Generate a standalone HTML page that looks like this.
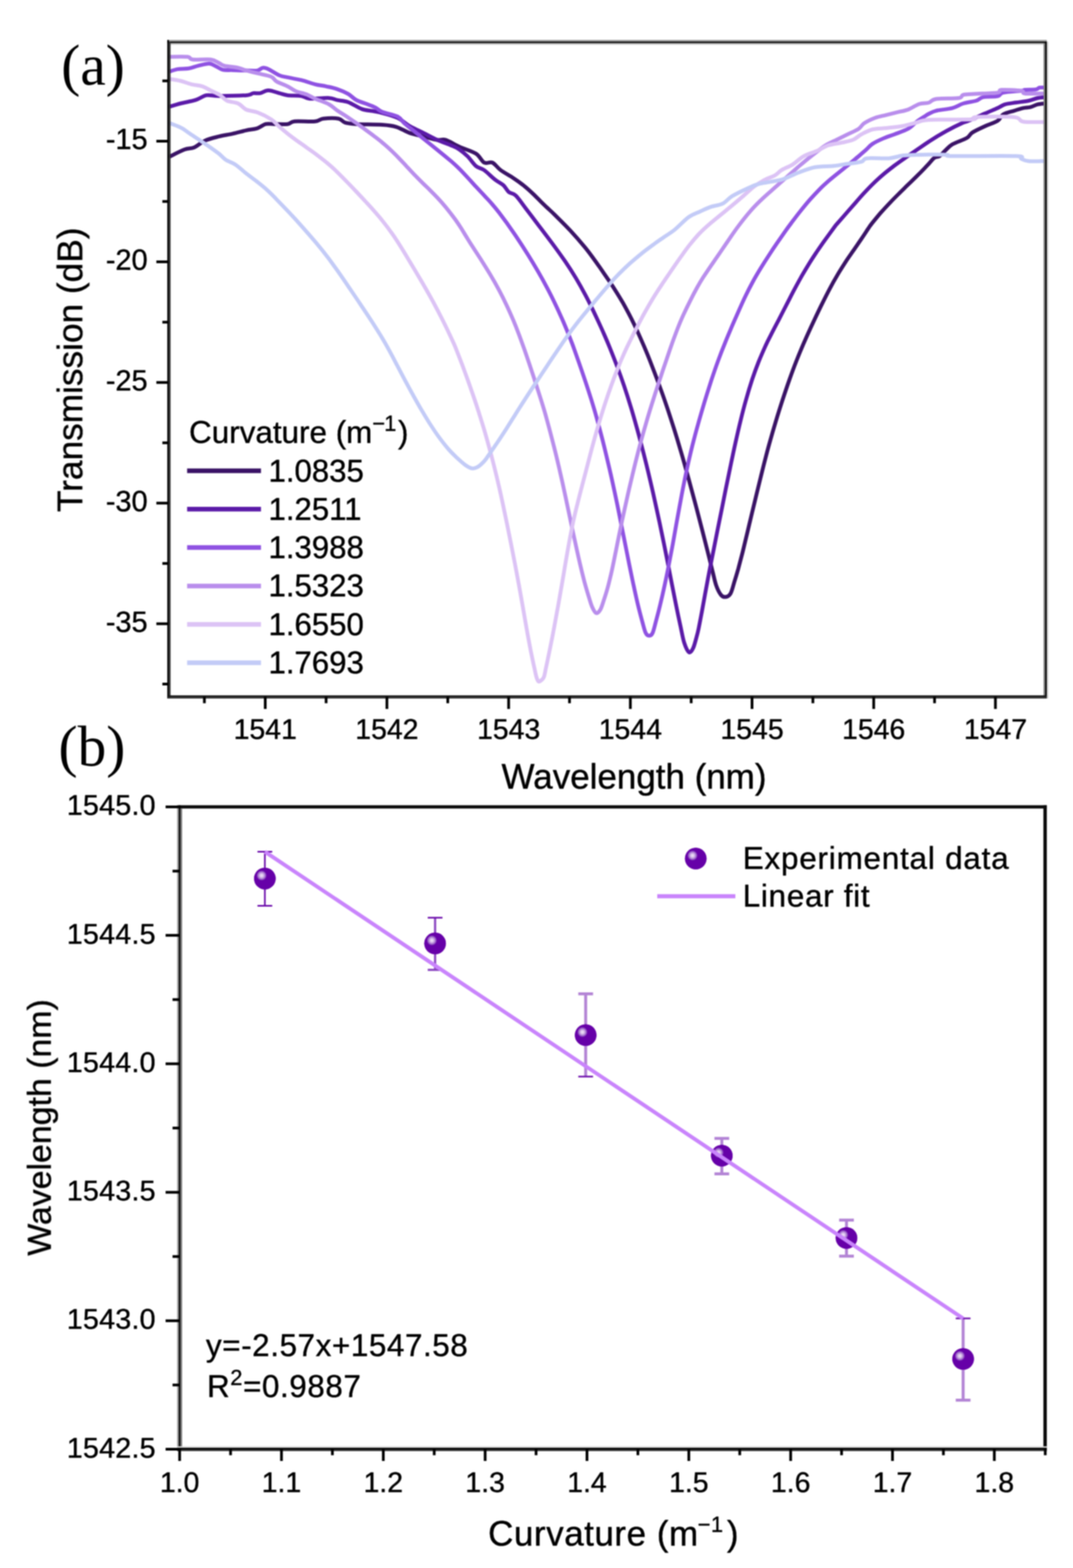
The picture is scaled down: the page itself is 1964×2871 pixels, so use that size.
<!DOCTYPE html>
<html lang="en">
<head>
<meta charset="utf-8">
<title>Transmission spectra and wavelength shift versus curvature</title>
<style>
html,body{margin:0;padding:0;background:#fff;}
body{width:1964px;height:2871px;overflow:hidden;}
svg{display:block;}
text{white-space:pre;stroke:#000;stroke-width:0.7px;stroke-linejoin:round;}
</style>
</head>
<body>
<svg width="1964" height="2871" viewBox="0 0 1964 2871">
<defs><filter id="soft" filterUnits="userSpaceOnUse" x="0" y="0" width="1964" height="2871" color-interpolation-filters="sRGB"><feGaussianBlur stdDeviation="1.0"/></filter></defs>
<rect x="0" y="0" width="1964" height="2871" fill="#ffffff"/>
<g filter="url(#soft)">
<clipPath id="clipA"><rect x="309.2" y="77.4" width="1605.3" height="1198.6999999999998"/></clipPath>
<g clip-path="url(#clipA)" fill="none" stroke-width="7" stroke-linejoin="round" stroke-linecap="butt">
<path d="M308.8,287.6 C313.6,285.3 329.9,276.7 337.7,273.8 C345.4,270.9 349.0,272.7 355.3,270.0 C361.6,267.3 367.9,260.8 375.5,257.4 C383.1,254.0 392.2,252.0 400.6,249.9 C409.0,247.8 417.4,246.7 425.8,244.8 C434.2,242.9 443.3,240.3 450.9,238.6 C458.4,236.9 465.2,236.7 471.1,234.8 C477.0,232.9 481.2,228.5 486.2,227.2 C491.2,225.9 494.6,227.2 501.3,227.2 C508.0,227.2 520.1,228.0 526.4,227.2 C532.7,226.4 530.6,223.0 539.0,222.2 C547.4,221.4 567.9,223.0 576.7,222.2 C585.5,221.4 584.7,218.0 591.8,217.2 C598.9,216.4 612.8,215.9 619.5,217.2 C626.2,218.4 626.6,223.0 632.1,224.7 C637.6,226.4 640.9,226.6 652.2,227.2 C663.5,227.8 687.8,227.7 700.0,228.5 C712.2,229.3 716.8,229.8 725.2,232.3 C733.6,234.8 741.9,240.7 750.3,243.6 C758.7,246.5 767.1,247.8 775.5,249.9 C783.9,252.0 793.9,255.1 800.6,256.2 C807.3,257.2 809.0,254.1 815.7,256.2 C822.4,258.3 831.7,264.5 840.9,268.7 C850.1,272.9 863.5,276.5 871.1,281.3 C878.7,286.1 881.2,295.0 886.2,297.7 C891.2,300.4 896.3,295.4 901.3,297.7 C906.3,300.0 909.9,306.7 916.4,311.5 C922.9,316.3 932.8,321.4 940.1,326.3 C947.4,331.2 954.2,336.2 960.1,341.0 C966.1,345.8 970.9,350.4 975.9,355.1 C980.8,359.7 985.4,364.6 989.8,368.9 C994.2,373.2 998.1,377.0 1002.2,380.9 C1006.3,384.8 1007.4,385.4 1014.3,392.3 C1021.3,399.3 1034.8,412.5 1044.1,422.4 C1053.3,432.3 1062.8,443.3 1069.8,451.8 C1076.8,460.2 1081.1,466.3 1086.3,473.3 C1091.5,480.3 1095.9,486.8 1100.8,493.8 C1105.6,500.7 1111.3,509.0 1115.4,515.0 C1119.4,521.0 1121.0,523.2 1125.1,529.8 C1129.3,536.4 1135.0,545.5 1140.2,554.6 C1145.3,563.7 1151.6,575.6 1156.1,584.3 C1160.5,593.0 1162.9,598.2 1166.7,606.6 C1170.5,614.9 1175.2,625.6 1179.0,634.4 C1182.7,643.3 1184.6,647.6 1189.3,659.5 C1194.0,671.5 1201.7,691.7 1207.0,706.1 C1212.3,720.4 1216.5,732.5 1221.0,745.8 C1225.5,759.2 1229.9,772.9 1234.0,785.9 C1238.1,798.9 1242.0,811.9 1245.5,823.9 C1249.1,835.9 1251.9,845.8 1255.2,857.8 C1258.6,869.7 1262.1,882.9 1265.5,895.5 C1268.9,908.1 1272.3,920.6 1275.6,933.2 C1278.9,945.8 1282.2,958.4 1285.4,971.0 C1288.6,983.6 1291.8,996.3 1295.0,1008.9 C1298.1,1021.4 1301.7,1035.7 1304.3,1046.1 C1306.9,1056.6 1308.3,1064.4 1310.8,1071.6 C1313.3,1078.8 1316.7,1085.6 1319.6,1089.2 C1322.5,1092.8 1325.5,1093.4 1328.4,1093.0 C1331.3,1092.6 1334.6,1091.2 1337.2,1086.7 C1339.8,1082.2 1341.6,1073.8 1343.9,1066.2 C1346.3,1058.6 1348.8,1050.3 1351.4,1041.2 C1353.9,1032.0 1356.5,1021.9 1359.3,1011.0 C1362.0,1000.2 1364.8,988.0 1367.7,976.1 C1370.5,964.1 1373.6,951.1 1376.4,939.5 C1379.2,927.9 1381.7,917.6 1384.3,906.7 C1387.0,895.7 1389.7,884.8 1392.3,874.0 C1395.0,863.1 1397.6,852.5 1400.5,841.4 C1403.3,830.4 1406.1,819.7 1409.5,807.8 C1412.8,795.9 1416.7,782.5 1420.5,770.0 C1424.3,757.4 1428.3,744.8 1432.4,732.2 C1436.5,719.7 1441.1,706.1 1445.2,694.5 C1449.3,682.9 1452.8,673.3 1457.0,662.7 C1461.2,652.0 1465.7,641.2 1470.2,630.7 C1474.7,620.3 1478.6,611.5 1483.9,600.0 C1489.3,588.4 1496.5,573.1 1502.2,561.4 C1508.0,549.6 1513.3,538.9 1518.4,529.3 C1523.4,519.7 1527.5,512.4 1532.7,503.7 C1537.8,495.1 1544.6,484.6 1549.3,477.2 C1554.1,469.9 1556.7,466.4 1561.3,459.8 C1565.8,453.1 1571.9,444.5 1576.6,437.5 C1581.4,430.5 1586.6,422.4 1589.7,417.8 C1592.8,413.2 1591.5,414.8 1595.2,410.0 C1599.0,405.3 1606.4,396.1 1612.2,389.4 C1618.1,382.7 1624.5,375.9 1630.3,369.8 C1636.1,363.7 1642.4,357.5 1647.2,352.7 C1652.0,347.9 1654.0,346.0 1659.0,341.1 C1664.0,336.3 1671.6,329.0 1677.1,323.5 C1682.6,318.1 1688.3,312.3 1692.1,308.3 C1695.9,304.4 1697.0,303.2 1700.0,300.0 C1703.0,296.8 1706.7,291.6 1710.0,289.2 C1713.3,286.8 1716.6,288.0 1719.9,285.8 C1723.2,283.6 1726.0,279.5 1729.9,275.9 C1733.8,272.3 1736.6,268.2 1743.2,264.3 C1749.8,260.4 1763.7,256.2 1769.8,252.6 C1775.9,249.0 1774.2,246.3 1779.7,242.7 C1785.2,239.1 1795.2,234.6 1803.0,231.0 C1810.8,227.4 1820.7,224.7 1826.2,221.1 C1831.7,217.5 1831.2,212.4 1836.2,209.4 C1841.2,206.4 1850.0,204.7 1856.1,202.8 C1862.2,200.9 1867.8,198.9 1872.8,197.8 C1877.8,196.7 1881.6,197.2 1886.0,196.1 C1890.4,195.0 1894.9,192.3 1899.3,191.2 C1903.7,190.1 1910.4,189.8 1912.6,189.5" stroke="#3a1366"/>
<path d="M308.8,195.8 C312.4,194.8 322.0,191.6 330.2,189.5 C338.4,187.4 349.9,185.7 357.9,183.2 C365.9,180.7 370.9,175.7 378.0,174.4 C385.1,173.2 388.5,175.7 400.6,175.7 C412.8,175.7 440.4,175.2 450.9,174.4 C461.4,173.6 459.3,171.2 463.5,170.6 C467.7,170.0 471.5,171.4 476.1,170.6 C480.7,169.8 485.3,165.6 491.2,165.6 C497.1,165.6 505.4,169.1 511.3,170.6 C517.2,172.1 519.7,173.6 526.4,174.4 C533.1,175.2 544.9,174.6 551.6,175.7 C558.3,176.8 558.3,180.1 566.7,180.7 C575.1,181.3 593.5,179.0 601.9,179.4 C610.3,179.8 611.1,181.9 617.0,183.2 C622.9,184.5 629.6,184.3 637.1,187.0 C644.6,189.7 654.8,196.9 662.3,199.6 C669.8,202.3 676.1,202.1 682.4,203.3 C688.7,204.6 692.5,205.0 700.0,207.1 C707.5,209.2 719.3,211.9 727.7,215.9 C736.1,219.9 742.3,226.4 750.3,231.0 C758.3,235.6 767.1,239.4 775.5,243.6 C783.9,247.8 792.2,252.4 800.6,256.2 C809.0,260.0 819.1,263.3 825.8,266.2 C832.5,269.1 835.9,270.4 840.9,273.8 C845.9,277.2 851.0,281.4 856.0,286.4 C861.0,291.4 866.1,299.8 871.1,304.0 C876.1,308.2 880.3,307.3 886.2,311.5 C892.1,315.7 900.4,324.5 906.3,329.1 C912.2,333.7 917.2,335.4 921.4,339.2 C925.6,343.0 927.6,348.7 931.4,351.8 C935.2,354.9 938.7,352.9 944.0,358.0 C949.3,363.1 956.8,374.4 963.1,382.6 C969.4,390.8 974.0,396.8 981.7,407.1 C989.5,417.3 1000.8,432.0 1009.6,444.0 C1018.5,456.0 1027.3,468.2 1034.8,479.1 C1042.2,490.0 1048.3,499.6 1054.3,509.5 C1060.3,519.5 1066.4,530.6 1070.8,538.9 C1075.3,547.1 1077.1,551.0 1081.0,558.9 C1084.9,566.8 1090.0,577.5 1094.1,586.4 C1098.2,595.2 1102.1,603.6 1105.7,612.0 C1109.4,620.3 1111.9,626.1 1116.0,636.2 C1120.1,646.4 1126.0,661.3 1130.3,672.9 C1134.7,684.5 1138.0,693.7 1142.1,705.8 C1146.2,718.0 1151.0,733.1 1154.9,746.0 C1158.9,759.0 1162.2,770.9 1165.7,783.5 C1169.2,796.0 1172.4,808.2 1175.7,821.2 C1179.1,834.2 1182.6,848.1 1185.8,861.5 C1189.0,874.9 1191.6,885.8 1195.2,901.8 C1198.8,917.8 1204.0,942.0 1207.4,957.6 C1210.7,973.3 1212.7,983.0 1215.3,995.6 C1217.9,1008.2 1220.4,1020.8 1222.8,1033.3 C1225.3,1045.8 1227.6,1058.3 1230.1,1070.8 C1232.6,1083.4 1235.0,1096.1 1237.6,1108.6 C1240.1,1121.2 1243.0,1134.9 1245.5,1146.2 C1248.0,1157.6 1249.7,1168.6 1252.3,1176.6 C1254.9,1184.6 1258.4,1192.5 1261.1,1194.2 C1263.8,1195.9 1266.4,1191.4 1268.7,1186.7 C1271.0,1182.0 1273.4,1172.1 1275.0,1166.1 C1276.7,1160.2 1277.1,1158.9 1278.7,1151.1 C1280.3,1143.4 1282.7,1130.6 1284.8,1119.5 C1286.8,1108.3 1288.9,1096.5 1291.2,1084.3 C1293.4,1072.1 1295.9,1059.0 1298.3,1046.4 C1300.8,1033.8 1303.3,1021.3 1305.8,1008.7 C1308.3,996.1 1310.8,983.5 1313.3,970.9 C1315.8,958.3 1318.4,945.8 1320.9,933.2 C1323.4,920.6 1325.9,908.1 1328.4,895.5 C1331.0,882.9 1333.3,871.6 1336.2,857.7 C1339.1,843.8 1342.6,826.7 1345.9,812.1 C1349.1,797.5 1352.3,783.3 1355.6,770.0 C1358.8,756.7 1361.8,745.0 1365.4,732.4 C1368.9,719.9 1373.0,706.3 1376.8,694.7 C1380.7,683.2 1384.3,673.3 1388.4,662.9 C1392.5,652.6 1397.6,641.2 1401.4,632.7 C1405.3,624.2 1407.6,620.0 1411.6,612.2 C1415.5,604.3 1420.2,595.5 1425.3,585.8 C1430.3,576.1 1436.8,563.3 1441.7,553.8 C1446.6,544.3 1450.2,537.1 1454.6,528.9 C1459.0,520.6 1463.7,511.9 1468.1,504.3 C1472.5,496.6 1476.6,489.8 1480.9,482.8 C1485.2,475.8 1489.7,469.0 1494.2,462.2 C1498.8,455.5 1502.7,449.8 1508.2,442.0 C1513.8,434.3 1523.5,421.0 1527.4,415.6 C1531.4,410.2 1528.1,414.4 1532.0,409.9 C1535.9,405.4 1544.9,395.2 1550.7,388.5 C1556.6,381.7 1562.2,375.4 1567.3,369.6 C1572.4,363.8 1576.2,359.3 1581.4,353.7 C1586.7,348.0 1592.6,341.6 1598.8,335.7 C1604.9,329.8 1612.0,323.4 1618.4,318.0 C1624.7,312.7 1631.3,307.7 1636.9,303.4 C1642.6,299.2 1646.6,296.4 1652.2,292.4 C1657.8,288.4 1665.1,283.4 1670.5,279.6 C1675.8,275.9 1679.4,273.5 1684.3,270.1 C1689.2,266.7 1695.5,262.4 1699.9,259.5 C1704.4,256.5 1705.4,255.8 1710.9,252.4 C1716.5,249.1 1725.1,243.7 1733.2,239.3 C1741.3,234.9 1753.2,229.0 1759.8,226.0 C1766.4,223.0 1765.9,224.1 1773.1,221.1 C1780.3,218.1 1794.2,211.7 1803.0,207.8 C1811.8,203.9 1820.1,200.6 1826.2,197.8 C1832.3,195.0 1834.0,192.9 1839.5,191.2 C1845.0,189.5 1852.3,188.9 1859.5,187.8 C1866.7,186.7 1876.1,185.9 1882.7,184.5 C1889.3,183.1 1894.3,180.6 1899.3,179.5 C1904.3,178.4 1910.4,178.2 1912.6,177.9" stroke="#5b1aa8"/>
<path d="M308.8,131.6 C311.5,130.8 319.1,127.6 325.2,126.6 C331.3,125.5 339.0,126.3 345.3,125.3 C351.6,124.2 356.6,121.8 362.9,120.3 C369.2,118.8 377.6,116.3 383.0,116.5 C388.4,116.7 391.4,119.7 395.6,121.6 C399.8,123.5 403.2,126.8 408.2,127.9 C413.2,129.0 418.7,128.2 425.8,128.4 C432.9,128.6 443.3,129.0 450.9,129.1 C458.4,129.2 466.1,129.9 471.1,129.1 C476.1,128.3 477.8,124.5 481.1,124.1 C484.5,123.7 486.2,124.3 491.2,126.6 C496.2,128.9 505.4,135.4 511.3,137.9 C517.2,140.4 519.7,140.2 526.4,141.7 C533.1,143.2 543.2,144.6 551.6,146.7 C560.0,148.8 569.2,152.4 576.7,154.3 C584.2,156.2 590.2,156.6 596.9,158.1 C603.6,159.6 610.3,160.8 617.0,163.1 C623.7,165.4 631.2,168.6 637.1,171.9 C643.0,175.2 646.3,180.0 652.2,183.2 C658.1,186.3 666.4,188.5 672.3,190.8 C678.2,193.1 682.8,194.6 687.4,197.0 C692.0,199.4 693.3,202.3 700.0,205.0 C706.7,207.7 721.0,209.9 727.7,213.4 C734.4,216.9 735.2,221.5 740.3,226.0 C745.4,230.5 750.9,234.6 758.3,240.5 C765.8,246.5 777.0,255.5 784.9,261.9 C792.8,268.3 798.9,273.1 805.8,278.7 C812.7,284.3 820.8,291.0 826.3,295.6 C831.7,300.3 834.1,302.5 838.4,306.7 C842.7,310.8 846.5,314.9 852.0,320.8 C857.5,326.6 865.3,335.4 871.1,341.7 C876.9,348.0 882.5,353.8 886.9,358.6 C891.3,363.4 893.4,365.2 897.8,370.3 C902.2,375.4 906.3,379.8 913.4,389.2 C920.6,398.6 932.0,414.2 940.7,426.9 C949.5,439.6 958.6,454.0 965.9,465.6 C973.2,477.2 978.4,486.0 984.5,496.6 C990.6,507.1 997.0,518.7 1002.5,529.1 C1008.0,539.5 1012.9,549.5 1017.5,559.2 C1022.1,568.8 1026.4,578.5 1030.1,586.8 C1033.7,595.1 1036.7,602.5 1039.3,608.8 C1041.8,615.1 1043.5,619.3 1045.5,624.5 C1047.5,629.7 1048.0,630.8 1051.3,640.1 C1054.6,649.4 1061.1,667.7 1065.4,680.3 C1069.7,692.9 1073.6,704.4 1077.2,715.8 C1080.9,727.1 1084.4,738.4 1087.4,748.4 C1090.4,758.4 1092.5,766.3 1095.1,775.9 C1097.7,785.5 1100.4,796.0 1103.0,806.0 C1105.5,816.1 1107.9,825.8 1110.4,836.3 C1112.9,846.8 1115.5,858.0 1118.0,868.9 C1120.5,879.9 1123.0,891.6 1125.2,901.7 C1127.4,911.9 1129.2,920.7 1131.1,930.0 C1133.0,939.3 1134.4,946.8 1136.6,957.7 C1138.8,968.6 1141.7,982.9 1144.2,995.5 C1146.7,1008.1 1149.2,1020.6 1151.7,1033.2 C1154.3,1045.8 1156.8,1058.3 1159.5,1070.8 C1162.2,1083.4 1165.2,1097.2 1167.9,1108.4 C1170.6,1119.7 1173.4,1130.0 1175.7,1138.5 C1178.1,1146.9 1179.8,1154.7 1181.9,1159.0 C1184.0,1163.3 1186.1,1164.0 1188.2,1164.0 C1190.3,1164.0 1192.4,1163.6 1194.5,1159.0 C1196.6,1154.4 1198.6,1144.9 1201.0,1136.1 C1203.4,1127.3 1206.1,1116.9 1208.7,1106.0 C1211.3,1095.1 1214.1,1083.0 1216.7,1070.8 C1219.3,1058.7 1222.0,1045.7 1224.4,1033.1 C1226.9,1020.6 1229.3,1008.0 1231.6,995.4 C1233.9,982.8 1235.6,972.7 1238.3,957.7 C1241.1,942.7 1244.7,922.1 1247.9,905.3 C1251.1,888.4 1254.6,871.5 1257.8,856.7 C1261.0,841.8 1263.9,829.7 1267.2,816.2 C1270.6,802.8 1274.1,789.5 1277.9,776.1 C1281.6,762.7 1285.6,749.2 1289.6,735.7 C1293.7,722.3 1298.2,708.0 1302.3,695.4 C1306.5,682.9 1310.3,671.8 1314.5,660.4 C1318.6,649.1 1322.9,638.0 1327.3,627.3 C1331.6,616.6 1336.0,606.4 1340.3,596.2 C1344.7,586.1 1349.4,575.4 1353.4,566.3 C1357.5,557.2 1360.7,549.9 1364.7,541.7 C1368.7,533.4 1372.9,525.1 1377.5,516.7 C1382.0,508.4 1387.0,499.9 1392.2,491.4 C1397.4,482.9 1403.6,473.2 1408.6,465.6 C1413.5,458.0 1417.0,452.8 1421.8,445.8 C1426.6,438.8 1433.0,429.6 1437.3,423.5 C1441.6,417.4 1443.3,415.0 1447.9,409.0 C1452.4,403.0 1458.6,394.6 1464.4,387.4 C1470.2,380.1 1476.3,372.5 1482.6,365.4 C1488.9,358.3 1496.2,350.6 1502.0,344.7 C1507.9,338.9 1512.0,335.3 1517.6,330.4 C1523.3,325.6 1531.0,319.5 1535.9,315.5 C1540.7,311.5 1542.7,310.0 1546.9,306.6 C1551.0,303.3 1556.4,298.8 1560.7,295.2 C1565.0,291.6 1568.8,288.5 1572.8,285.0 C1576.9,281.5 1581.3,277.8 1585.3,274.2 C1589.3,270.6 1591.6,267.0 1596.9,263.5 C1602.2,260.0 1610.3,256.3 1617.0,253.4 C1623.7,250.5 1629.5,248.8 1637.1,245.9 C1644.6,243.0 1655.6,239.6 1662.3,235.8 C1669.0,232.0 1672.4,227.0 1677.4,223.2 C1682.4,219.4 1688.7,215.5 1692.5,213.1 C1696.3,210.7 1696.5,210.2 1700.0,208.5 C1703.5,206.8 1706.1,204.6 1713.3,202.8 C1720.5,201.0 1734.9,200.0 1743.2,197.8 C1751.5,195.6 1755.9,191.7 1763.1,189.5 C1770.3,187.3 1780.3,186.4 1786.4,184.5 C1792.5,182.6 1793.1,179.3 1799.7,177.9 C1806.3,176.5 1820.1,177.6 1826.2,176.2 C1832.3,174.8 1829.0,171.3 1836.2,169.6 C1843.4,167.9 1862.8,167.0 1869.4,166.2 C1876.1,165.4 1871.7,165.0 1876.1,164.6 C1880.5,164.2 1891.6,164.5 1896.0,163.8 C1900.4,163.1 1899.9,161.0 1902.7,160.4 C1905.5,159.8 1910.9,160.4 1912.6,160.4" stroke="#8f52e2"/>
<path d="M308.8,104.0 C314.5,104.0 335.5,103.2 342.8,104.0 C350.1,104.8 345.7,108.2 352.8,109.0 C359.9,109.8 377.5,108.0 385.5,109.0 C393.5,110.0 396.4,113.4 400.6,115.3 C404.8,117.2 404.8,118.8 410.7,120.3 C416.6,121.8 429.1,122.6 435.8,124.1 C442.5,125.6 445.0,127.4 450.9,129.1 C456.8,130.8 463.6,132.3 471.1,134.2 C478.7,136.1 490.3,137.9 496.2,140.4 C502.1,142.9 501.3,146.2 506.3,149.2 C511.3,152.1 520.5,155.1 526.4,158.1 C532.3,161.1 535.6,164.4 541.5,166.9 C547.4,169.4 555.7,170.8 561.6,173.1 C567.5,175.4 570.0,177.8 576.7,180.7 C583.4,183.6 595.2,187.2 601.9,190.8 C608.6,194.4 611.7,198.5 617.0,202.1 C622.3,205.7 627.5,208.7 633.5,212.6 C639.4,216.6 646.8,221.7 652.5,225.7 C658.1,229.6 661.7,232.3 667.1,236.2 C672.6,240.2 679.9,245.5 685.1,249.5 C690.4,253.5 693.9,256.1 698.8,260.2 C703.7,264.4 709.5,269.4 714.7,274.3 C719.8,279.1 724.9,284.2 729.8,289.2 C734.8,294.3 739.9,300.0 744.4,304.8 C748.8,309.6 751.7,312.8 756.6,317.9 C761.6,323.1 769.0,330.5 774.0,335.5 C779.1,340.5 782.5,343.6 786.9,348.0 C791.3,352.4 795.8,356.7 800.5,361.9 C805.3,367.0 810.3,372.6 815.6,379.0 C820.8,385.4 827.6,394.1 832.2,400.4 C836.8,406.6 839.6,411.0 843.1,416.4 C846.6,421.8 850.1,427.9 853.1,432.7 C856.1,437.5 856.6,438.5 861.0,445.4 C865.3,452.2 873.4,464.4 879.3,473.7 C885.2,483.1 890.9,491.9 896.6,501.6 C902.4,511.2 908.7,522.3 913.8,531.9 C918.9,541.5 923.0,549.8 927.3,559.0 C931.6,568.1 935.9,577.9 939.7,586.7 C943.4,595.6 946.3,603.0 949.7,611.9 C953.1,620.8 956.6,630.7 959.9,640.0 C963.2,649.4 966.4,659.1 969.4,667.8 C972.3,676.6 975.0,684.8 977.6,692.7 C980.2,700.7 982.5,707.9 985.0,715.5 C987.4,723.1 989.9,730.6 992.2,738.2 C994.5,745.8 996.1,750.6 999.0,761.1 C1001.9,771.6 1006.3,787.7 1009.7,801.1 C1013.2,814.5 1016.6,827.9 1019.8,841.4 C1023.0,854.8 1026.2,868.6 1029.1,881.7 C1032.0,894.8 1034.7,907.3 1037.3,920.0 C1040.0,932.6 1042.6,945.0 1045.2,957.6 C1047.9,970.2 1050.6,983.0 1053.4,995.6 C1056.1,1008.1 1059.0,1021.4 1061.8,1033.1 C1064.5,1044.7 1067.3,1056.0 1069.8,1065.6 C1072.4,1075.2 1074.8,1083.2 1077.1,1090.8 C1079.5,1098.4 1081.4,1105.9 1083.8,1111.2 C1086.2,1116.5 1088.8,1121.7 1091.3,1122.5 C1093.8,1123.3 1096.7,1119.9 1098.9,1116.2 C1101.1,1112.5 1102.5,1107.2 1104.7,1100.5 C1107.0,1093.7 1109.9,1084.7 1112.4,1075.6 C1114.9,1066.4 1117.1,1056.9 1119.7,1045.7 C1122.2,1034.4 1124.9,1020.6 1127.5,1008.0 C1130.0,995.5 1132.6,982.2 1135.1,970.5 C1137.5,958.8 1139.3,950.3 1142.0,938.0 C1144.7,925.7 1148.0,910.7 1151.2,896.7 C1154.5,882.7 1157.9,868.1 1161.4,853.9 C1164.9,839.7 1168.4,825.6 1172.3,811.4 C1176.1,797.2 1180.3,782.4 1184.4,768.5 C1188.4,754.7 1192.6,741.3 1196.8,728.3 C1200.9,715.3 1205.4,701.8 1209.2,690.4 C1212.9,679.0 1215.8,670.4 1219.5,659.8 C1223.1,649.2 1227.1,637.4 1230.8,626.9 C1234.6,616.5 1238.6,605.6 1242.0,597.2 C1245.3,588.8 1247.3,584.3 1250.8,576.6 C1254.3,569.0 1258.8,559.6 1263.0,551.3 C1267.2,542.9 1272.0,533.7 1276.1,526.3 C1280.2,519.0 1282.4,515.1 1287.5,507.2 C1292.6,499.3 1301.7,486.0 1306.6,478.9 C1311.4,471.8 1311.6,471.7 1316.6,464.5 C1321.5,457.3 1330.3,444.2 1336.2,435.7 C1342.0,427.2 1345.7,421.7 1351.9,413.5 C1358.1,405.3 1366.7,394.4 1373.3,386.8 C1379.9,379.1 1385.4,373.7 1391.5,367.7 C1397.7,361.7 1404.3,355.9 1410.1,350.8 C1415.8,345.6 1420.0,342.0 1426.0,336.6 C1432.0,331.3 1440.2,324.0 1446.0,318.9 C1451.8,313.8 1455.6,310.4 1460.7,305.9 C1465.9,301.5 1471.0,297.1 1477.0,292.2 C1483.0,287.3 1491.0,281.1 1496.7,276.7 C1502.4,272.3 1505.5,269.5 1511.3,266.0 C1517.1,262.5 1524.7,259.2 1531.4,255.9 C1538.1,252.6 1544.9,249.2 1551.6,245.9 C1558.3,242.6 1566.7,239.2 1571.7,235.8 C1576.7,232.4 1576.8,229.0 1581.8,225.7 C1586.8,222.3 1595.2,218.2 1601.9,215.7 C1608.6,213.2 1615.3,212.3 1622.0,210.6 C1628.7,208.9 1635.4,207.3 1642.1,205.6 C1648.8,203.9 1655.6,203.1 1662.3,200.6 C1669.0,198.1 1676.1,192.6 1682.4,190.5 C1688.7,188.4 1694.8,189.6 1700.0,188.0 C1705.2,186.4 1704.2,182.6 1713.3,181.2 C1722.4,179.8 1746.5,180.8 1754.8,179.5 C1763.1,178.2 1758.4,174.9 1763.1,173.7 C1767.8,172.5 1772.6,172.8 1783.1,172.1 C1793.6,171.4 1817.9,170.8 1826.2,169.6 C1834.5,168.3 1825.7,165.2 1832.9,164.6 C1840.1,164.0 1862.2,165.1 1869.4,166.2 C1876.6,167.3 1868.9,170.4 1876.1,171.2 C1883.3,172.0 1906.5,171.2 1912.6,171.2" stroke="#b98eec"/>
<path d="M308.8,144.2 C312.4,144.8 323.3,146.3 330.2,148.0 C337.1,149.7 343.6,152.6 350.3,154.3 C357.0,156.0 364.5,156.2 370.4,158.1 C376.3,160.0 380.1,162.9 385.5,165.6 C390.9,168.3 398.1,171.2 403.1,174.4 C408.1,177.6 410.2,182.0 415.7,184.5 C421.1,187.0 429.9,186.8 435.8,189.5 C441.7,192.2 445.0,198.1 450.9,200.8 C456.8,203.5 463.6,202.9 471.1,205.8 C478.7,208.7 489.8,214.3 496.2,218.4 C502.6,222.5 504.3,225.8 509.4,230.3 C514.6,234.8 521.8,240.9 527.1,245.2 C532.5,249.5 535.7,251.9 541.5,256.1 C547.4,260.4 556.3,266.5 562.0,270.7 C567.8,274.8 570.0,276.1 576.2,280.8 C582.4,285.5 593.4,294.0 599.5,299.0 C605.6,304.0 607.0,305.3 612.8,310.8 C618.5,316.3 627.7,325.5 634.1,332.1 C640.6,338.6 645.6,343.9 651.3,350.0 C657.0,356.0 662.8,362.2 668.5,368.3 C674.1,374.4 679.6,380.3 685.0,386.5 C690.5,392.7 695.4,398.4 701.1,405.6 C706.8,412.8 713.8,422.2 719.0,429.6 C724.2,437.1 727.1,441.6 732.5,450.2 C737.9,458.8 745.5,471.5 751.3,481.1 C757.1,490.8 761.7,498.4 767.4,508.1 C773.1,517.8 779.8,529.3 785.5,539.5 C791.2,549.6 796.3,559.1 801.5,569.1 C806.7,579.1 812.0,589.6 816.7,599.2 C821.4,608.9 826.5,619.9 829.6,626.8 C832.7,633.6 832.6,633.2 835.4,640.4 C838.3,647.7 843.3,660.9 846.8,670.1 C850.2,679.3 852.8,686.3 856.1,695.5 C859.4,704.7 863.3,715.9 866.6,725.5 C870.0,735.2 872.7,743.4 875.9,753.5 C879.1,763.6 882.9,775.7 886.0,786.1 C889.1,796.6 892.0,806.8 894.5,816.0 C897.1,825.3 898.9,832.2 901.3,841.5 C903.7,850.7 906.6,862.4 908.8,871.5 C911.0,880.7 912.8,888.5 914.7,896.6 C916.5,904.7 917.6,909.9 919.8,920.1 C922.0,930.3 925.1,945.2 927.7,957.7 C930.2,970.3 932.8,982.9 935.3,995.5 C937.8,1008.1 940.3,1020.7 942.7,1033.2 C945.1,1045.8 947.5,1058.4 949.8,1071.0 C952.1,1083.6 954.3,1096.1 956.5,1108.7 C958.7,1121.3 961.4,1136.6 963.1,1146.5 C964.8,1156.3 965.7,1161.0 966.9,1167.7 C968.1,1174.3 969.3,1180.3 970.5,1186.6 C971.7,1192.9 973.0,1199.2 974.3,1205.5 C975.6,1211.7 977.1,1218.6 978.4,1224.2 C979.6,1229.9 980.6,1235.5 981.8,1239.4 C983.0,1243.3 984.0,1246.5 985.5,1247.6 C987.0,1248.6 988.9,1247.1 990.6,1245.7 C992.3,1244.3 994.2,1243.0 995.6,1239.4 C997.0,1235.8 997.8,1229.9 999.0,1224.2 C1000.3,1218.6 1001.7,1211.8 1003.0,1205.5 C1004.3,1199.2 1005.6,1192.9 1006.9,1186.6 C1008.2,1180.3 1009.4,1174.0 1010.7,1167.7 C1011.9,1161.4 1012.4,1158.7 1014.3,1148.9 C1016.1,1139.0 1019.3,1121.6 1021.7,1108.6 C1024.0,1095.6 1026.1,1083.5 1028.3,1070.9 C1030.5,1058.3 1032.6,1045.8 1034.7,1033.2 C1036.9,1020.7 1039.0,1008.1 1041.3,995.6 C1043.6,983.0 1046.4,968.9 1048.6,958.0 C1050.9,947.1 1052.7,939.7 1055.0,930.2 C1057.3,920.8 1059.4,912.9 1062.3,901.4 C1065.3,890.0 1069.3,874.7 1072.8,861.3 C1076.3,848.0 1079.7,834.5 1083.3,821.2 C1086.9,807.8 1090.5,794.6 1094.4,781.3 C1098.3,767.9 1102.7,753.6 1106.8,741.0 C1110.9,728.4 1114.8,717.0 1118.9,705.7 C1123.0,694.3 1127.7,682.1 1131.4,672.9 C1135.0,663.7 1137.8,657.2 1140.9,650.4 C1143.9,643.5 1145.6,639.9 1149.5,631.8 C1153.5,623.7 1159.4,611.6 1164.6,601.6 C1169.7,591.6 1175.1,581.3 1180.4,571.8 C1185.7,562.3 1190.8,553.4 1196.2,544.6 C1201.6,535.8 1207.3,527.2 1212.8,518.9 C1218.2,510.7 1223.4,503.2 1228.9,495.2 C1234.4,487.2 1240.2,478.6 1245.7,471.0 C1251.2,463.3 1256.0,456.3 1261.7,449.1 C1267.5,441.9 1274.4,433.7 1280.2,427.5 C1286.1,421.3 1290.3,417.5 1296.8,411.8 C1303.3,406.1 1312.1,399.2 1319.3,393.2 C1326.5,387.3 1333.2,382.0 1340.0,376.3 C1346.8,370.6 1353.6,364.8 1360.3,359.0 C1367.1,353.2 1373.8,346.4 1380.5,341.4 C1387.2,336.4 1394.3,332.2 1400.6,328.9 C1406.9,325.5 1413.2,324.2 1418.2,321.3 C1423.2,318.4 1425.3,314.7 1430.8,311.3 C1436.2,307.9 1444.2,305.4 1450.9,301.2 C1457.6,297.0 1463.5,290.3 1471.1,286.1 C1478.6,281.9 1488.7,279.4 1496.2,276.0 C1503.8,272.6 1508.9,268.5 1516.4,266.0 C1524.0,263.5 1534.0,262.7 1541.5,261.0 C1549.0,259.3 1555.7,258.4 1561.6,255.9 C1567.5,253.4 1570.8,249.1 1576.7,245.9 C1582.6,242.8 1589.4,238.9 1596.9,237.0 C1604.5,235.1 1612.8,235.5 1622.0,234.5 C1631.2,233.5 1643.0,232.5 1652.2,230.8 C1661.4,229.1 1669.4,226.4 1677.4,224.5 C1685.4,222.6 1683.0,220.4 1700.0,219.4 C1717.0,218.4 1765.3,219.4 1779.7,218.6 C1794.1,217.8 1773.7,215.1 1786.4,214.4 C1799.1,213.7 1841.7,213.0 1856.1,214.4 C1870.5,215.8 1863.4,221.2 1872.8,222.7 C1882.2,224.2 1906.0,223.4 1912.6,223.6" stroke="#dcc3f5"/>
<path d="M308.8,224.7 C311.5,225.8 320.8,229.1 325.2,231.0 C329.6,232.9 331.6,233.8 335.2,236.0 C338.8,238.2 341.7,240.8 346.7,244.2 C351.7,247.6 359.0,252.4 365.2,256.5 C371.5,260.7 378.3,265.2 384.2,269.3 C390.1,273.5 395.8,277.4 400.6,281.3 C405.4,285.2 408.2,289.2 413.2,292.6 C418.2,296.0 424.5,297.2 430.8,301.4 C437.1,305.6 444.2,312.5 450.9,317.8 C457.6,323.1 465.3,328.6 471.0,333.0 C476.7,337.4 480.8,340.8 485.0,344.4 C489.1,348.0 491.8,350.6 495.9,354.6 C500.0,358.6 504.1,362.9 509.6,368.6 C515.2,374.3 523.0,382.5 529.1,388.9 C535.2,395.4 537.8,398.0 546.1,407.3 C554.4,416.6 569.8,434.1 578.8,444.7 C587.8,455.4 593.2,462.3 600.1,471.3 C607.0,480.4 613.1,489.1 620.1,499.0 C627.1,508.9 635.0,520.6 641.8,530.6 C648.6,540.6 654.4,549.2 660.9,559.0 C667.4,568.7 674.4,579.1 680.9,589.2 C687.4,599.4 695.0,611.4 700.1,619.9 C705.2,628.4 707.3,632.3 711.6,640.2 C716.0,648.1 721.3,658.3 726.1,667.5 C731.0,676.7 735.7,685.8 740.8,695.4 C745.9,704.9 751.8,715.8 756.9,725.0 C762.0,734.2 766.4,742.1 771.4,750.5 C776.4,758.9 781.4,767.3 786.6,775.5 C791.9,783.7 797.3,792.0 803.0,799.8 C808.7,807.6 815.2,815.9 820.6,822.1 C826.0,828.3 830.2,832.3 835.3,837.2 C840.5,842.0 846.8,847.9 851.6,851.3 C856.4,854.7 860.4,857.0 864.2,857.6 C868.0,858.2 870.4,857.4 874.2,855.1 C878.0,852.8 883.1,847.9 886.8,843.8 C890.5,839.7 892.1,836.6 896.2,830.7 C900.4,824.8 906.5,815.9 911.6,808.4 C916.6,800.9 921.4,793.5 926.5,785.6 C931.6,777.6 936.9,769.1 942.1,760.8 C947.3,752.5 952.7,743.9 957.8,736.0 C962.9,728.0 968.1,720.0 972.6,713.2 C977.1,706.4 980.1,701.9 984.7,695.1 C989.2,688.3 995.0,679.6 999.7,672.5 C1004.4,665.4 1006.3,662.2 1012.8,652.7 C1019.2,643.2 1031.0,625.9 1038.2,615.7 C1045.5,605.4 1048.9,600.8 1056.3,591.4 C1063.6,582.1 1072.2,571.5 1082.3,559.4 C1092.4,547.3 1108.5,528.4 1116.9,518.8 C1125.3,509.2 1126.6,507.9 1132.6,501.8 C1138.7,495.7 1145.6,489.0 1153.1,482.2 C1160.6,475.5 1170.3,467.5 1177.7,461.5 C1185.2,455.6 1191.6,451.0 1197.8,446.5 C1203.9,442.0 1208.3,439.0 1214.6,434.7 C1220.8,430.3 1227.6,426.6 1235.2,420.4 C1242.8,414.2 1252.9,403.1 1260.4,397.7 C1268.0,392.2 1273.8,390.8 1280.5,387.7 C1287.2,384.6 1293.6,381.4 1300.6,378.9 C1307.6,376.4 1316.0,376.2 1322.6,372.9 C1329.2,369.6 1332.3,363.9 1340.3,359.1 C1348.3,354.3 1362.0,347.8 1370.4,344.0 C1378.8,340.2 1380.5,338.9 1390.6,336.4 C1400.7,333.9 1419.1,332.2 1430.8,328.9 C1442.5,325.5 1450.9,320.1 1461.0,316.3 C1471.1,312.5 1480.3,308.3 1491.2,306.2 C1502.1,304.1 1516.3,304.8 1526.4,303.7 C1536.5,302.6 1543.2,301.1 1551.6,299.9 C1560.0,298.6 1570.8,297.9 1576.7,296.2 C1582.6,294.5 1578.4,290.9 1586.8,289.9 C1595.2,288.8 1616.1,290.8 1627.0,289.9 C1637.9,289.0 1643.8,285.9 1652.2,284.8 C1660.6,283.8 1669.4,283.9 1677.4,283.6 C1685.4,283.3 1690.7,283.0 1700.0,283.0 C1709.3,283.0 1726.0,282.9 1733.2,283.4 C1740.4,283.9 1722.2,285.4 1743.2,285.8 C1764.2,286.2 1838.5,285.0 1859.5,285.8 C1880.5,286.6 1865.5,289.3 1869.4,290.8 C1873.3,292.3 1875.5,294.3 1882.7,295.0 C1889.9,295.7 1907.6,295.0 1912.6,295.0" stroke="#c3cbf7"/>
</g>
<text x="346.0" y="811.0" font-size="57.5" text-anchor="start" font-family="'Liberation Sans', sans-serif" fill="#000" >Curvature (m<tspan font-size="40" dy="-22" letter-spacing="-1.5">−1</tspan><tspan dy="22" dx="4.5">)</tspan></text>
<line x1="342.5" y1="862.0" x2="477.7" y2="862.0" stroke="#3a1366" stroke-width="8.5" stroke-linecap="butt"/>
<text x="491.5" y="881.5" font-size="57" text-anchor="start" font-family="'Liberation Sans', sans-serif" fill="#000" >1.0835</text>
<line x1="342.5" y1="932.3" x2="477.7" y2="932.3" stroke="#5b1aa8" stroke-width="8.5" stroke-linecap="butt"/>
<text x="491.5" y="951.8" font-size="57" text-anchor="start" font-family="'Liberation Sans', sans-serif" fill="#000" >1.2511</text>
<line x1="342.5" y1="1002.6" x2="477.7" y2="1002.6" stroke="#8f52e2" stroke-width="8.5" stroke-linecap="butt"/>
<text x="491.5" y="1022.1" font-size="57" text-anchor="start" font-family="'Liberation Sans', sans-serif" fill="#000" >1.3988</text>
<line x1="342.5" y1="1072.9" x2="477.7" y2="1072.9" stroke="#b98eec" stroke-width="8.5" stroke-linecap="butt"/>
<text x="491.5" y="1092.4" font-size="57" text-anchor="start" font-family="'Liberation Sans', sans-serif" fill="#000" >1.5323</text>
<line x1="342.5" y1="1143.2" x2="477.7" y2="1143.2" stroke="#dcc3f5" stroke-width="8.5" stroke-linecap="butt"/>
<text x="491.5" y="1162.7" font-size="57" text-anchor="start" font-family="'Liberation Sans', sans-serif" fill="#000" >1.6550</text>
<line x1="342.5" y1="1213.5" x2="477.7" y2="1213.5" stroke="#c3cbf7" stroke-width="8.5" stroke-linecap="butt"/>
<text x="491.5" y="1233.0" font-size="57" text-anchor="start" font-family="'Liberation Sans', sans-serif" fill="#000" >1.7693</text>
<rect x="306.2" y="73.1" width="1609.9" height="3.1" fill="#9a9a9a"/>
<rect x="306.2" y="76.2" width="1609.9" height="2.7" fill="#000"/>
<rect x="312.2" y="78.9" width="1597.9" height="2.8" fill="#bdbdbd"/>
<rect x="1910.1" y="78.9" width="3.0" height="1200.1" fill="#808080"/>
<rect x="1913.1" y="76.2" width="3.0" height="1202.8" fill="#000"/>
<rect x="1916.1" y="76.2" width="2.8" height="1202.8" fill="#d0d0d0"/>
<rect x="306.2" y="73.1" width="3.0" height="1205.9" fill="#000"/>
<rect x="309.2" y="76.2" width="3.0" height="1202.8" fill="#2e2e2e"/>
<rect x="306.2" y="1273.2" width="1609.9" height="2.9" fill="#151515"/>
<rect x="306.2" y="1276.1" width="1609.9" height="2.9" fill="#303030"/>
<line x1="286.2" y1="258.5" x2="309.2" y2="258.5" stroke="#000" stroke-width="5" stroke-linecap="butt"/>
<text x="270.3" y="273.2" font-size="53" text-anchor="end" font-family="'Liberation Sans', sans-serif" fill="#000" >-15</text>
<line x1="286.2" y1="479.4" x2="309.2" y2="479.4" stroke="#000" stroke-width="5" stroke-linecap="butt"/>
<text x="270.3" y="494.1" font-size="53" text-anchor="end" font-family="'Liberation Sans', sans-serif" fill="#000" >-20</text>
<line x1="286.2" y1="700.3" x2="309.2" y2="700.3" stroke="#000" stroke-width="5" stroke-linecap="butt"/>
<text x="270.3" y="715.0" font-size="53" text-anchor="end" font-family="'Liberation Sans', sans-serif" fill="#000" >-25</text>
<line x1="286.2" y1="921.2" x2="309.2" y2="921.2" stroke="#000" stroke-width="5" stroke-linecap="butt"/>
<text x="270.3" y="935.9" font-size="53" text-anchor="end" font-family="'Liberation Sans', sans-serif" fill="#000" >-30</text>
<line x1="286.2" y1="1142.1" x2="309.2" y2="1142.1" stroke="#000" stroke-width="5" stroke-linecap="butt"/>
<text x="270.3" y="1156.8" font-size="53" text-anchor="end" font-family="'Liberation Sans', sans-serif" fill="#000" >-35</text>
<line x1="297.2" y1="148.1" x2="309.2" y2="148.1" stroke="#000" stroke-width="5" stroke-linecap="butt"/>
<line x1="297.2" y1="368.9" x2="309.2" y2="368.9" stroke="#000" stroke-width="5" stroke-linecap="butt"/>
<line x1="297.2" y1="589.9" x2="309.2" y2="589.9" stroke="#000" stroke-width="5" stroke-linecap="butt"/>
<line x1="297.2" y1="810.8" x2="309.2" y2="810.8" stroke="#000" stroke-width="5" stroke-linecap="butt"/>
<line x1="297.2" y1="1031.7" x2="309.2" y2="1031.7" stroke="#000" stroke-width="5" stroke-linecap="butt"/>
<line x1="297.2" y1="1252.5" x2="309.2" y2="1252.5" stroke="#000" stroke-width="5" stroke-linecap="butt"/>
<line x1="485.5" y1="1276.1" x2="485.5" y2="1298.1" stroke="#000" stroke-width="5" stroke-linecap="butt"/>
<text x="485.5" y="1352.6" font-size="52" text-anchor="middle" font-family="'Liberation Sans', sans-serif" fill="#000" >1541</text>
<line x1="708.2" y1="1276.1" x2="708.2" y2="1298.1" stroke="#000" stroke-width="5" stroke-linecap="butt"/>
<text x="708.2" y="1352.6" font-size="52" text-anchor="middle" font-family="'Liberation Sans', sans-serif" fill="#000" >1542</text>
<line x1="931.0" y1="1276.1" x2="931.0" y2="1298.1" stroke="#000" stroke-width="5" stroke-linecap="butt"/>
<text x="931.0" y="1352.6" font-size="52" text-anchor="middle" font-family="'Liberation Sans', sans-serif" fill="#000" >1543</text>
<line x1="1153.8" y1="1276.1" x2="1153.8" y2="1298.1" stroke="#000" stroke-width="5" stroke-linecap="butt"/>
<text x="1153.8" y="1352.6" font-size="52" text-anchor="middle" font-family="'Liberation Sans', sans-serif" fill="#000" >1544</text>
<line x1="1376.5" y1="1276.1" x2="1376.5" y2="1298.1" stroke="#000" stroke-width="5" stroke-linecap="butt"/>
<text x="1376.5" y="1352.6" font-size="52" text-anchor="middle" font-family="'Liberation Sans', sans-serif" fill="#000" >1545</text>
<line x1="1599.2" y1="1276.1" x2="1599.2" y2="1298.1" stroke="#000" stroke-width="5" stroke-linecap="butt"/>
<text x="1599.2" y="1352.6" font-size="52" text-anchor="middle" font-family="'Liberation Sans', sans-serif" fill="#000" >1546</text>
<line x1="1822.0" y1="1276.1" x2="1822.0" y2="1298.1" stroke="#000" stroke-width="5" stroke-linecap="butt"/>
<text x="1822.0" y="1352.6" font-size="52" text-anchor="middle" font-family="'Liberation Sans', sans-serif" fill="#000" >1547</text>
<line x1="374.1" y1="1276.1" x2="374.1" y2="1287.6" stroke="#000" stroke-width="5" stroke-linecap="butt"/>
<line x1="596.9" y1="1276.1" x2="596.9" y2="1287.6" stroke="#000" stroke-width="5" stroke-linecap="butt"/>
<line x1="819.6" y1="1276.1" x2="819.6" y2="1287.6" stroke="#000" stroke-width="5" stroke-linecap="butt"/>
<line x1="1042.4" y1="1276.1" x2="1042.4" y2="1287.6" stroke="#000" stroke-width="5" stroke-linecap="butt"/>
<line x1="1265.1" y1="1276.1" x2="1265.1" y2="1287.6" stroke="#000" stroke-width="5" stroke-linecap="butt"/>
<line x1="1487.9" y1="1276.1" x2="1487.9" y2="1287.6" stroke="#000" stroke-width="5" stroke-linecap="butt"/>
<line x1="1710.6" y1="1276.1" x2="1710.6" y2="1287.6" stroke="#000" stroke-width="5" stroke-linecap="butt"/>
<text x="1160.5" y="1443.7" font-size="64" text-anchor="middle" font-family="'Liberation Sans', sans-serif" fill="#000" >Wavelength (nm)</text>
<text transform="translate(150.5,677) rotate(-90)" font-size="64.5" text-anchor="middle" font-family="'Liberation Sans', sans-serif">Transmission (dB)</text>
<text x="112.0" y="155.0" font-size="105" text-anchor="start" font-family="'Liberation Serif', serif" fill="#000" style="stroke:none">(a)</text>
<defs><radialGradient id="sph" gradientUnits="objectBoundingBox" cx="0.35" cy="0.36" r="0.24" fx="0.35" fy="0.36"><stop offset="0" stop-color="#f3eaf9"/><stop offset="0.35" stop-color="#d8c0ea"/><stop offset="0.75" stop-color="#9a63c8"/><stop offset="1" stop-color="#6600a8"/></radialGradient></defs>
<line x1="484.8" y1="1559.5" x2="484.8" y2="1658.5" stroke="#6a0aaa" stroke-width="3.0" stroke-linecap="butt"/>
<line x1="471.3" y1="1559.5" x2="498.3" y2="1559.5" stroke="#6a0aaa" stroke-width="3.0" stroke-linecap="butt"/>
<line x1="471.3" y1="1658.5" x2="498.3" y2="1658.5" stroke="#6a0aaa" stroke-width="3.0" stroke-linecap="butt"/>
<line x1="796.4" y1="1680.3" x2="796.4" y2="1775.8" stroke="#8a45c0" stroke-width="4.0" stroke-linecap="butt"/>
<line x1="782.9" y1="1680.3" x2="809.9" y2="1680.3" stroke="#6a0aaa" stroke-width="3.0" stroke-linecap="butt"/>
<line x1="782.9" y1="1775.8" x2="809.9" y2="1775.8" stroke="#8a45c0" stroke-width="4.0" stroke-linecap="butt"/>
<line x1="1072.0" y1="1819.7" x2="1072.0" y2="1971.2" stroke="#b384d5" stroke-width="5.4" stroke-linecap="butt"/>
<line x1="1058.5" y1="1819.7" x2="1085.5" y2="1819.7" stroke="#b384d5" stroke-width="5.4" stroke-linecap="butt"/>
<line x1="1058.5" y1="1971.2" x2="1085.5" y2="1971.2" stroke="#6a0aaa" stroke-width="3.0" stroke-linecap="butt"/>
<line x1="1321.2" y1="2084.4" x2="1321.2" y2="2149.3" stroke="#b384d5" stroke-width="5.4" stroke-linecap="butt"/>
<line x1="1307.7" y1="2084.4" x2="1334.7" y2="2084.4" stroke="#b384d5" stroke-width="5.4" stroke-linecap="butt"/>
<line x1="1307.7" y1="2149.3" x2="1334.7" y2="2149.3" stroke="#b384d5" stroke-width="5.4" stroke-linecap="butt"/>
<line x1="1549.4" y1="2234.0" x2="1549.4" y2="2300.0" stroke="#b384d5" stroke-width="5.4" stroke-linecap="butt"/>
<line x1="1535.9" y1="2234.0" x2="1562.9" y2="2234.0" stroke="#b384d5" stroke-width="5.4" stroke-linecap="butt"/>
<line x1="1535.9" y1="2300.0" x2="1562.9" y2="2300.0" stroke="#b384d5" stroke-width="5.4" stroke-linecap="butt"/>
<line x1="1762.9" y1="2414.0" x2="1762.9" y2="2563.7" stroke="#b384d5" stroke-width="5.4" stroke-linecap="butt"/>
<line x1="1749.4" y1="2414.0" x2="1776.4" y2="2414.0" stroke="#6a0aaa" stroke-width="3.0" stroke-linecap="butt"/>
<line x1="1749.4" y1="2563.7" x2="1776.4" y2="2563.7" stroke="#b384d5" stroke-width="5.4" stroke-linecap="butt"/>
<circle cx="484.8" cy="1608.6" r="19.8" fill="#6600a8"/>
<circle cx="484.8" cy="1608.6" r="19.8" fill="url(#sph)"/>
<circle cx="796.4" cy="1727.4" r="19.8" fill="#6600a8"/>
<circle cx="796.4" cy="1727.4" r="19.8" fill="url(#sph)"/>
<circle cx="1072.0" cy="1895.3" r="19.8" fill="#6600a8"/>
<circle cx="1072.0" cy="1895.3" r="19.8" fill="url(#sph)"/>
<circle cx="1321.2" cy="2116.0" r="19.8" fill="#6600a8"/>
<circle cx="1321.2" cy="2116.0" r="19.8" fill="url(#sph)"/>
<circle cx="1549.4" cy="2266.7" r="19.8" fill="#6600a8"/>
<circle cx="1549.4" cy="2266.7" r="19.8" fill="url(#sph)"/>
<circle cx="1762.9" cy="2488.2" r="19.8" fill="#6600a8"/>
<circle cx="1762.9" cy="2488.2" r="19.8" fill="url(#sph)"/>
<line x1="484.8" y1="1559.5" x2="1763.0" y2="2414.2" stroke="#c984fc" stroke-width="7" stroke-linecap="butt"/>
<circle cx="1273.5" cy="1572.0" r="19.8" fill="#6600a8"/>
<circle cx="1273.5" cy="1572.0" r="19.8" fill="url(#sph)"/>
<line x1="1203.0" y1="1641.0" x2="1346.0" y2="1641.0" stroke="#c984fc" stroke-width="7.5" stroke-linecap="butt"/>
<text x="1359.5" y="1591.0" font-size="57.5" text-anchor="start" font-family="'Liberation Sans', sans-serif" fill="#000" letter-spacing="1.45" >Experimental data</text>
<text x="1359.5" y="1660.0" font-size="57.5" text-anchor="start" font-family="'Liberation Sans', sans-serif" fill="#000" letter-spacing="1.3" >Linear fit</text>
<text x="377.0" y="2483.0" font-size="57.4" text-anchor="start" font-family="'Liberation Sans', sans-serif" fill="#000" letter-spacing="1.1" >y=-2.57x+1547.58</text>
<text x="379.0" y="2558.0" font-size="57.4" text-anchor="start" font-family="'Liberation Sans', sans-serif" fill="#000" letter-spacing="1.1" >R<tspan font-size="40" dy="-22">2</tspan><tspan dy="22">=0.9887</tspan></text>
<rect x="324.2" y="1474.4" width="1591.9" height="6.0" fill="#0a0a0a"/>
<rect x="1909.8" y="1474.4" width="6.3" height="1182.6" fill="#0a0a0a"/>
<rect x="324.2" y="1474.4" width="3.0" height="1182.6" fill="#9c9c9c"/>
<rect x="327.2" y="1474.4" width="3.1" height="1182.6" fill="#000"/>
<rect x="330.3" y="1480.4" width="3.0" height="1176.6" fill="#707070"/>
<rect x="324.2" y="2648.2" width="1591.9" height="2.7" fill="#d8d8d8"/>
<rect x="324.2" y="2650.9" width="1591.9" height="3.1" fill="#000"/>
<rect x="324.2" y="2654.0" width="1591.9" height="3.0" fill="#3a3a3a"/>
<line x1="303.1" y1="1477.4" x2="328.8" y2="1477.4" stroke="#000" stroke-width="5" stroke-linecap="butt"/>
<text x="285.0" y="1492.4" font-size="52.5" text-anchor="end" font-family="'Liberation Sans', sans-serif" fill="#000" letter-spacing="0.35" >1545.0</text>
<line x1="303.1" y1="1712.6" x2="328.8" y2="1712.6" stroke="#000" stroke-width="5" stroke-linecap="butt"/>
<text x="285.0" y="1727.6" font-size="52.5" text-anchor="end" font-family="'Liberation Sans', sans-serif" fill="#000" letter-spacing="0.35" >1544.5</text>
<line x1="303.1" y1="1947.8" x2="328.8" y2="1947.8" stroke="#000" stroke-width="5" stroke-linecap="butt"/>
<text x="285.0" y="1962.8" font-size="52.5" text-anchor="end" font-family="'Liberation Sans', sans-serif" fill="#000" letter-spacing="0.35" >1544.0</text>
<line x1="303.1" y1="2183.1" x2="328.8" y2="2183.1" stroke="#000" stroke-width="5" stroke-linecap="butt"/>
<text x="285.0" y="2198.1" font-size="52.5" text-anchor="end" font-family="'Liberation Sans', sans-serif" fill="#000" letter-spacing="0.35" >1543.5</text>
<line x1="303.1" y1="2418.3" x2="328.8" y2="2418.3" stroke="#000" stroke-width="5" stroke-linecap="butt"/>
<text x="285.0" y="2433.3" font-size="52.5" text-anchor="end" font-family="'Liberation Sans', sans-serif" fill="#000" letter-spacing="0.35" >1543.0</text>
<line x1="303.1" y1="2653.5" x2="328.8" y2="2653.5" stroke="#000" stroke-width="5" stroke-linecap="butt"/>
<text x="285.0" y="2668.5" font-size="52.5" text-anchor="end" font-family="'Liberation Sans', sans-serif" fill="#000" letter-spacing="0.35" >1542.5</text>
<line x1="315.8" y1="1595.0" x2="328.8" y2="1595.0" stroke="#000" stroke-width="5" stroke-linecap="butt"/>
<line x1="315.8" y1="1830.2" x2="328.8" y2="1830.2" stroke="#000" stroke-width="5" stroke-linecap="butt"/>
<line x1="315.8" y1="2065.4" x2="328.8" y2="2065.4" stroke="#000" stroke-width="5" stroke-linecap="butt"/>
<line x1="315.8" y1="2300.7" x2="328.8" y2="2300.7" stroke="#000" stroke-width="5" stroke-linecap="butt"/>
<line x1="315.8" y1="2535.9" x2="328.8" y2="2535.9" stroke="#000" stroke-width="5" stroke-linecap="butt"/>
<line x1="328.8" y1="2653.5" x2="328.8" y2="2675.0" stroke="#000" stroke-width="5" stroke-linecap="butt"/>
<text x="328.8" y="2731.5" font-size="52" text-anchor="middle" font-family="'Liberation Sans', sans-serif" fill="#000" >1.0</text>
<line x1="515.2" y1="2653.5" x2="515.2" y2="2675.0" stroke="#000" stroke-width="5" stroke-linecap="butt"/>
<text x="515.2" y="2731.5" font-size="52" text-anchor="middle" font-family="'Liberation Sans', sans-serif" fill="#000" >1.1</text>
<line x1="701.6" y1="2653.5" x2="701.6" y2="2675.0" stroke="#000" stroke-width="5" stroke-linecap="butt"/>
<text x="701.6" y="2731.5" font-size="52" text-anchor="middle" font-family="'Liberation Sans', sans-serif" fill="#000" >1.2</text>
<line x1="888.0" y1="2653.5" x2="888.0" y2="2675.0" stroke="#000" stroke-width="5" stroke-linecap="butt"/>
<text x="888.0" y="2731.5" font-size="52" text-anchor="middle" font-family="'Liberation Sans', sans-serif" fill="#000" >1.3</text>
<line x1="1074.4" y1="2653.5" x2="1074.4" y2="2675.0" stroke="#000" stroke-width="5" stroke-linecap="butt"/>
<text x="1074.4" y="2731.5" font-size="52" text-anchor="middle" font-family="'Liberation Sans', sans-serif" fill="#000" >1.4</text>
<line x1="1260.8" y1="2653.5" x2="1260.8" y2="2675.0" stroke="#000" stroke-width="5" stroke-linecap="butt"/>
<text x="1260.8" y="2731.5" font-size="52" text-anchor="middle" font-family="'Liberation Sans', sans-serif" fill="#000" >1.5</text>
<line x1="1447.2" y1="2653.5" x2="1447.2" y2="2675.0" stroke="#000" stroke-width="5" stroke-linecap="butt"/>
<text x="1447.2" y="2731.5" font-size="52" text-anchor="middle" font-family="'Liberation Sans', sans-serif" fill="#000" >1.6</text>
<line x1="1633.6" y1="2653.5" x2="1633.6" y2="2675.0" stroke="#000" stroke-width="5" stroke-linecap="butt"/>
<text x="1633.6" y="2731.5" font-size="52" text-anchor="middle" font-family="'Liberation Sans', sans-serif" fill="#000" >1.7</text>
<line x1="1820.0" y1="2653.5" x2="1820.0" y2="2675.0" stroke="#000" stroke-width="5" stroke-linecap="butt"/>
<text x="1820.0" y="2731.5" font-size="52" text-anchor="middle" font-family="'Liberation Sans', sans-serif" fill="#000" >1.8</text>
<line x1="422.0" y1="2653.5" x2="422.0" y2="2664.5" stroke="#000" stroke-width="5" stroke-linecap="butt"/>
<line x1="608.4" y1="2653.5" x2="608.4" y2="2664.5" stroke="#000" stroke-width="5" stroke-linecap="butt"/>
<line x1="794.8" y1="2653.5" x2="794.8" y2="2664.5" stroke="#000" stroke-width="5" stroke-linecap="butt"/>
<line x1="981.2" y1="2653.5" x2="981.2" y2="2664.5" stroke="#000" stroke-width="5" stroke-linecap="butt"/>
<line x1="1167.6" y1="2653.5" x2="1167.6" y2="2664.5" stroke="#000" stroke-width="5" stroke-linecap="butt"/>
<line x1="1354.0" y1="2653.5" x2="1354.0" y2="2664.5" stroke="#000" stroke-width="5" stroke-linecap="butt"/>
<line x1="1540.4" y1="2653.5" x2="1540.4" y2="2664.5" stroke="#000" stroke-width="5" stroke-linecap="butt"/>
<line x1="1726.8" y1="2653.5" x2="1726.8" y2="2664.5" stroke="#000" stroke-width="5" stroke-linecap="butt"/>
<line x1="1913.2" y1="2653.5" x2="1913.2" y2="2664.5" stroke="#000" stroke-width="5" stroke-linecap="butt"/>
<text x="893.5" y="2830.0" font-size="64" text-anchor="start" font-family="'Liberation Sans', sans-serif" fill="#000" letter-spacing="1.0" >Curvature (m<tspan font-size="40" dy="-25" dx="-2">−1</tspan><tspan dy="25" dx="6">)</tspan></text>
<text transform="translate(93,2064.4) rotate(-90)" font-size="62" text-anchor="middle" font-family="'Liberation Sans', sans-serif">Wavelength (nm)</text>
<text x="107.0" y="1401.5" font-size="105" text-anchor="start" font-family="'Liberation Serif', serif" fill="#000" style="stroke:none">(b)</text>
</g>
</svg>
</body>
</html>
